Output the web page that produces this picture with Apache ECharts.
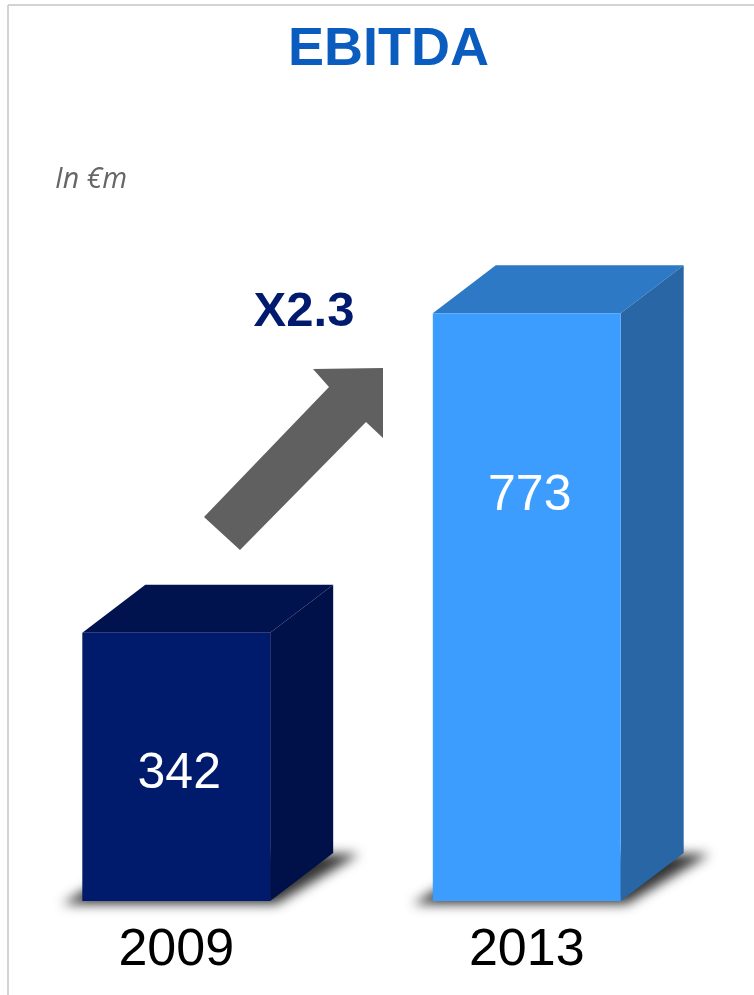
<!DOCTYPE html>
<html>
<head>
<meta charset="utf-8">
<script src="https://cdn.jsdelivr.net/npm/echarts@6/dist/echarts.min.js"></script>
<style>
html,body{margin:0;padding:0;background:#fff;}
#chart{width:754px;height:995px;}
</style>
</head>
<body>
<div id="chart"></div>
<script>
// ---- data ----
const categories = ['2009', '2013'];
const ebitda = [342, 773];
const titleText = 'EBITDA';
const unitText = 'In €m';
const growthText = 'X2.3';

// ---- styling / layout ----
const frontColors = ['#001a6c', '#3d9dff'];
const topColors = ['#00134f', '#2e79c5'];
const sideColors = ['#00114a', '#2866a6'];
const labelDrop = [142, 183];
const yMin = -20;
const depthX = 63, depthY = 48;
const SHIFT = 1000;

const chart = echarts.init(document.getElementById('chart'), null, { devicePixelRatio: 1 });

const option = {
  backgroundColor: '#ffffff',
  animation: false,
  title: {
    text: titleText,
    left: 283,
    top: 18,
    textStyle: { fontFamily: 'Liberation Sans, Arial', fontWeight: 'bold', fontSize: 54, color: '#0b5cbf' }
  },
  grid: { left: 1, right: 52, top: 145, bottom: 94 },
  xAxis: {
    type: 'category',
    data: categories,
    axisLine: { show: false },
    axisTick: { show: false },
    axisLabel: { fontFamily: 'Liberation Sans, Arial', fontSize: 52, color: '#000', margin: 24 }
  },
  yAxis: {
    type: 'value', min: yMin, max: 1000, show: false, splitLine: { show: false }
  },
  series: [{
    type: 'custom',
    data: ebitda.map((v, i) => [i, v]),
    renderItem: function (params, api) {
      const i = api.value(0), v = api.value(1);
      const top = api.coord([i, v]);
      const base = api.coord([i, yMin]);
      const w = api.size([1, 0])[0] * 0.536;
      const x0 = top[0] - w / 2, x1 = top[0] + w / 2, yT = top[1], yB = base[1];
      const sh = [[x0 - 20, yB + 3], [x1 + 6, yB + 3], [x1 + depthX + 26, yB - depthY + 1], [x0 + depthX, yB - depthY + 1]];
      return {
        type: 'group',
        children: [
          {
            type: 'polygon',
            shape: { points: sh.map(p => [p[0] - SHIFT, p[1]]) },
            style: { fill: '#000', shadowBlur: 12, shadowColor: 'rgba(0,0,0,0.8)', shadowOffsetX: SHIFT, shadowOffsetY: 0 }
          },
          {
            type: 'polygon',
            shape: { points: [[x0, yT], [x0 + depthX, yT - depthY], [x1 + depthX, yT - depthY], [x1, yT]] },
            style: { fill: topColors[i] }
          },
          {
            type: 'polygon',
            shape: { points: [[x1, yT], [x1 + depthX, yT - depthY], [x1 + depthX, yB - depthY], [x1, yB]] },
            style: { fill: sideColors[i] }
          },
          {
            type: 'rect',
            shape: { x: x0, y: yT, width: w, height: yB - yT },
            style: { fill: frontColors[i] }
          },
          {
            type: 'text',
            style: {
              text: String(v), x: top[0] + 3, y: yT + labelDrop[i],
              textAlign: 'center', textVerticalAlign: 'middle',
              font: '50px "Liberation Sans", Arial', fill: '#ffffff'
            }
          }
        ]
      };
    }
  }],
  graphic: [
    { type: 'line', shape: { x1: 8, y1: 5, x2: 754, y2: 5 }, style: { stroke: '#c4c4c4', lineWidth: 1.5 } },
    { type: 'line', shape: { x1: 8, y1: 5, x2: 8, y2: 995 }, style: { stroke: '#c4c4c4', lineWidth: 1.5 } },
    {
      type: 'text', left: 55, top: 165,
      style: { text: unitText, font: 'italic 28.5px "Open Sans", sans-serif', fill: '#666666' }
    },
    {
      type: 'text', x: 304, y: 312,
      style: { text: growthText, textAlign: 'center', textVerticalAlign: 'middle', font: 'bold 49px "Liberation Sans", Arial', fill: '#001a6e' }
    },
    {
      type: 'polygon',
      shape: { points: [[204, 517], [329, 387], [313, 369], [383, 368], [383, 438], [366, 422], [240, 550]] },
      style: { fill: '#606060' }
    }
  ]
};
chart.setOption(option);
</script>
</body>
</html>
